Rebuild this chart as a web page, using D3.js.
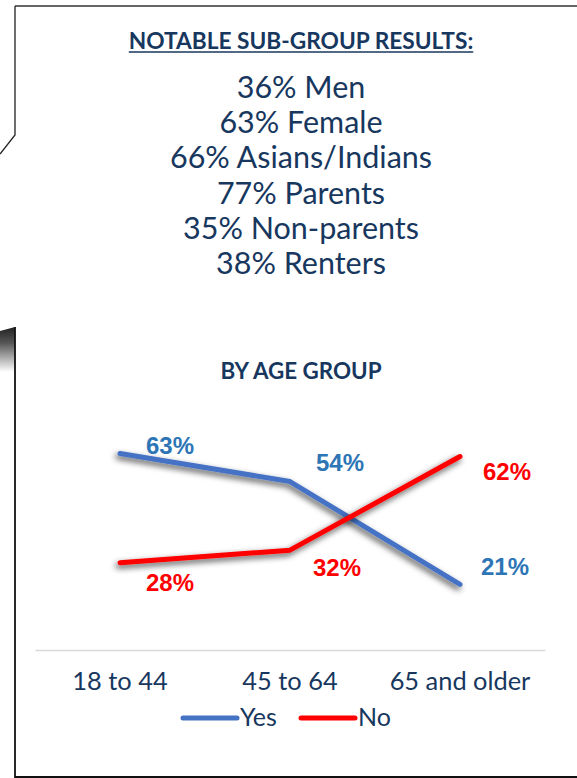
<!doctype html>
<html>
<head>
  <meta charset="utf-8">
  <title>Notable sub-group results</title>
  <style>
    body { margin: 0; background: #fff; }
    svg { display: block; }
  </style>
</head>
<body>
  <div class="graphContainer"></div>
  <script src="https://cdn.jsdelivr.net/npm/d3@7"></script>
  <script>

// data
var subgroups = ["36% Men", "63% Female", "66% Asians/Indians", "77% Parents", "35% Non-parents", "38% Renters"];
var ageGroups = ["18 to 44", "45 to 64", "65 and older"];
var yesValues = [63, 54, 21];
var noValues = [28, 32, 62];
var seriesNames = ["Yes", "No"];

// label offsets from each point (layout only)
var yesLabelShift = [[50, 1], [50, -11], [45, -9]];
var noLabelShift = [[50, 28], [47, 26], [47, 23]];

var w = 577, h = 778;
var navy = "#17375e";
var blue = "#4472c4", red = "#ff0000";

var svg = d3.select(".graphContainer")
    .append("svg")
    .attr("width", w)
    .attr("height", h);

var defs = svg.append("defs");
var shadow = defs.append("filter")
    .attr("id", "shadow")
    .attr("x", "-20%").attr("y", "-40%")
    .attr("width", "140%").attr("height", "180%");
shadow.append("feDropShadow")
    .attr("dx", -2).attr("dy", 3)
    .attr("stdDeviation", 3)
    .attr("flood-color", "#000")
    .attr("flood-opacity", 0.7);

var grad = defs.append("linearGradient")
    .attr("id", "fade")
    .attr("x1", 0).attr("y1", 0).attr("x2", 0).attr("y2", 1);
grad.append("stop").attr("offset", "0%").attr("stop-color", "#222");
grad.append("stop").attr("offset", "35%").attr("stop-color", "#555");
grad.append("stop").attr("offset", "100%").attr("stop-color", "#fff");

// panel frame
svg.append("line")
    .attr("x1", 15).attr("y1", 6).attr("x2", w).attr("y2", 6)
    .attr("stroke", "#666").attr("stroke-width", 2);
svg.append("path")
    .attr("d", "M15,6 V135 L0,154")
    .attr("fill", "none").attr("stroke", "#222").attr("stroke-width", 1.3);
svg.append("path")
    .attr("d", "M0,331 L15,327 V372 H0 Z")
    .attr("fill", "url(#fade)");
svg.append("path")
    .attr("d", "M15,327 V777 H" + w)
    .attr("fill", "none").attr("stroke", "#111").attr("stroke-width", 1.8);

// heading block
var title = svg.append("text")
    .attr("x", 301).attr("y", 49)
    .attr("text-anchor", "middle")
    .attr("font-family", "Lato")
    .attr("font-weight", "bold")
    .attr("font-size", 22.7)
    .attr("fill", navy)
    .text("NOTABLE SUB-GROUP RESULTS:");
var tw = title.node().getComputedTextLength();
svg.append("line")
    .attr("x1", 301 - tw / 2).attr("x2", 301 + tw / 2)
    .attr("y1", 52).attr("y2", 52)
    .attr("stroke", navy).attr("stroke-width", 1.5);

svg.selectAll(".subgroup")
    .data(subgroups)
    .enter().append("text")
    .attr("class", "subgroup")
    .attr("x", 301)
    .attr("y", function(d, i) { return 98 + i * 35.2; })
    .attr("text-anchor", "middle")
    .attr("font-family", "Lato")
    .attr("font-size", 30.5)
    .attr("fill", navy)
    .text(function(d) { return d; });

svg.append("text")
    .attr("x", 301).attr("y", 379)
    .attr("text-anchor", "middle")
    .attr("font-family", "Lato")
    .attr("font-weight", "bold")
    .attr("font-size", 22.4)
    .attr("fill", navy)
    .text("BY AGE GROUP");

// chart
var x = d3.scaleBand().domain(ageGroups).range([35, 545]);
var y = d3.scaleLinear().domain([0, 100]).range([650, 338]);

var xAxis = svg.append("g")
    .attr("transform", "translate(0,650)")
    .call(d3.axisBottom(x).tickSize(0).tickPadding(22));
xAxis.select(".domain").attr("stroke", "#d9d9d9").attr("stroke-width", 1.5);
xAxis.selectAll("text")
    .attr("font-family", "Lato")
    .attr("font-size", 25.4)
    .attr("fill", navy);

var line = d3.line()
    .x(function(d, i) { return x(ageGroups[i]) + x.bandwidth() / 2; })
    .y(function(d) { return y(d); });

var series = [
    { name: "Yes", values: yesValues, color: blue, label: "#2e75b6", shift: yesLabelShift },
    { name: "No", values: noValues, color: red, label: red, shift: noLabelShift }
];

series.forEach(function(s) {
    svg.append("path")
        .datum(s.values)
        .attr("d", line)
        .attr("fill", "none")
        .attr("stroke", s.color)
        .attr("stroke-width", 5)
        .attr("stroke-linecap", "round")
        .attr("stroke-linejoin", "round")
        .attr("filter", "url(#shadow)");
});

series.forEach(function(s) {
    svg.selectAll(".lbl-" + s.name)
        .data(s.values)
        .enter().append("text")
        .attr("x", function(d, i) { return x(ageGroups[i]) + x.bandwidth() / 2 + s.shift[i][0]; })
        .attr("y", function(d, i) { return y(d) + s.shift[i][1]; })
        .attr("text-anchor", "middle")
        .attr("font-family", "Liberation Sans, Arial")
        .attr("font-weight", "bold")
        .attr("font-size", 24)
        .attr("fill", s.label)
        .text(function(d) { return d + "%"; });
});

// legend
var legend = svg.append("g").attr("transform", "translate(0,718)");
var legendX = [183, 301];
seriesNames.forEach(function(name, i) {
    legend.append("line")
        .attr("x1", legendX[i]).attr("x2", legendX[i] + 54)
        .attr("y1", 0).attr("y2", 0)
        .attr("stroke", series[i].color)
        .attr("stroke-width", 5)
        .attr("stroke-linecap", "round");
    legend.append("text")
        .attr("x", legendX[i] + 57).attr("y", 8)
        .attr("font-family", "Lato")
        .attr("font-size", 25)
        .attr("fill", navy)
        .text(name);
});

  </script>
</body>
</html>
